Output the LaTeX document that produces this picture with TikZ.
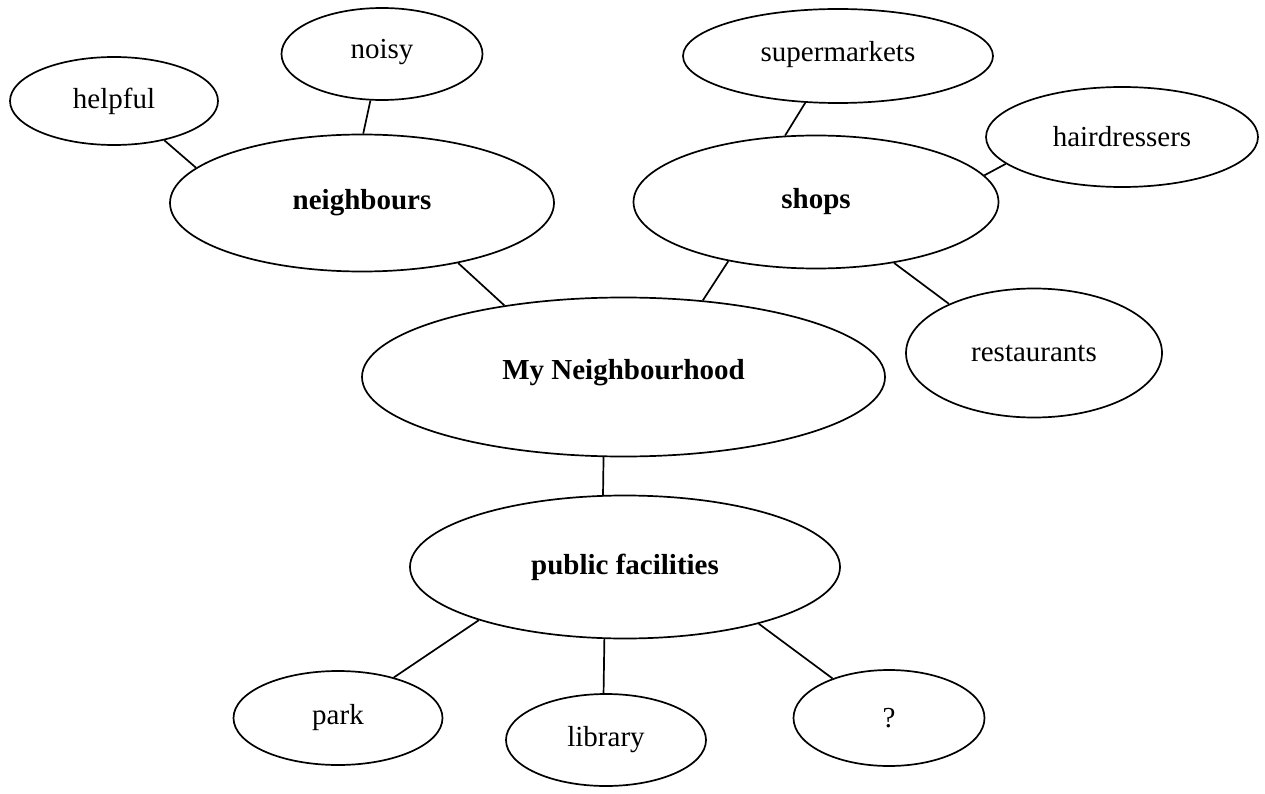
\documentclass[tikz,border=0pt]{standalone}
\usepackage{fontspec}
\setmainfont{Liberation Serif}
\usetikzlibrary{shapes.geometric}
\begin{document}
\begin{tikzpicture}[x=1pt,y=-1pt,
  bub/.style={draw, ellipse, line width=1.7pt, inner sep=0pt, font=\fontsize{29}{34}\selectfont},
  main/.style={bub, font=\fontsize{29}{34}\selectfont\bfseries},
  link/.style={line width=1.7pt}]
\useasboundingbox (0,0) rectangle (1265,794);
\node[bub, minimum width=208pt, minimum height=88pt] (helpful) at (114,101) {helpful};
\node[bub, minimum width=201pt, minimum height=92pt, text depth=10pt] (noisy) at (382,54) {noisy};
\node[main, minimum width=384pt, minimum height=137pt] (neigh) at (362,203) {neighbours};
\node[bub, minimum width=310pt, minimum height=94pt, text depth=10pt] (super) at (838,56) {supermarkets};
\node[bub, minimum width=272pt, minimum height=100pt] (hair) at (1122,137) {hairdressers};
\node[main, minimum width=365pt, minimum height=133pt] (shops) at (816,202) {shops};
\node[bub, minimum width=256pt, minimum height=129pt] (rest) at (1034,353) {restaurants};
\node[main, minimum width=523pt, minimum height=159pt, text height=20pt, text depth=16pt] (my) at (623.5,377) {My Neighbourhood};
\node[main, minimum width=430pt, minimum height=143pt] (pub) at (625,567) {public facilities};
\node[bub, minimum width=209pt, minimum height=94pt] (park) at (338,718) {park};
\node[bub, minimum width=200pt, minimum height=92pt] (lib) at (606,740) {library};
\node[bub, minimum width=191pt, minimum height=96pt] (q) at (889,718) {?};
\draw[link] (helpful.-38) -- (neigh.168);
\draw[link] (noisy.-104.5) -- (neigh.89);
\draw[link] (super.-125) -- (shops.115.5);
\draw[link] (hair.193) -- (shops.9);
\draw[link] (rest.150) -- (shops.-38);
\draw[link] (neigh.-32.7) -- (my.149.9);
\draw[link] (shops.214.5) -- (my.44.8);
\draw[link] (my.-104.5) -- (pub.107.4);
\draw[link] (pub.200.3) -- (park.36);
\draw[link] (pub.-106.8) -- (lib.93.8);
\draw[link] (pub.-23.1) -- (q.145.8);
\end{tikzpicture}
\end{document}
